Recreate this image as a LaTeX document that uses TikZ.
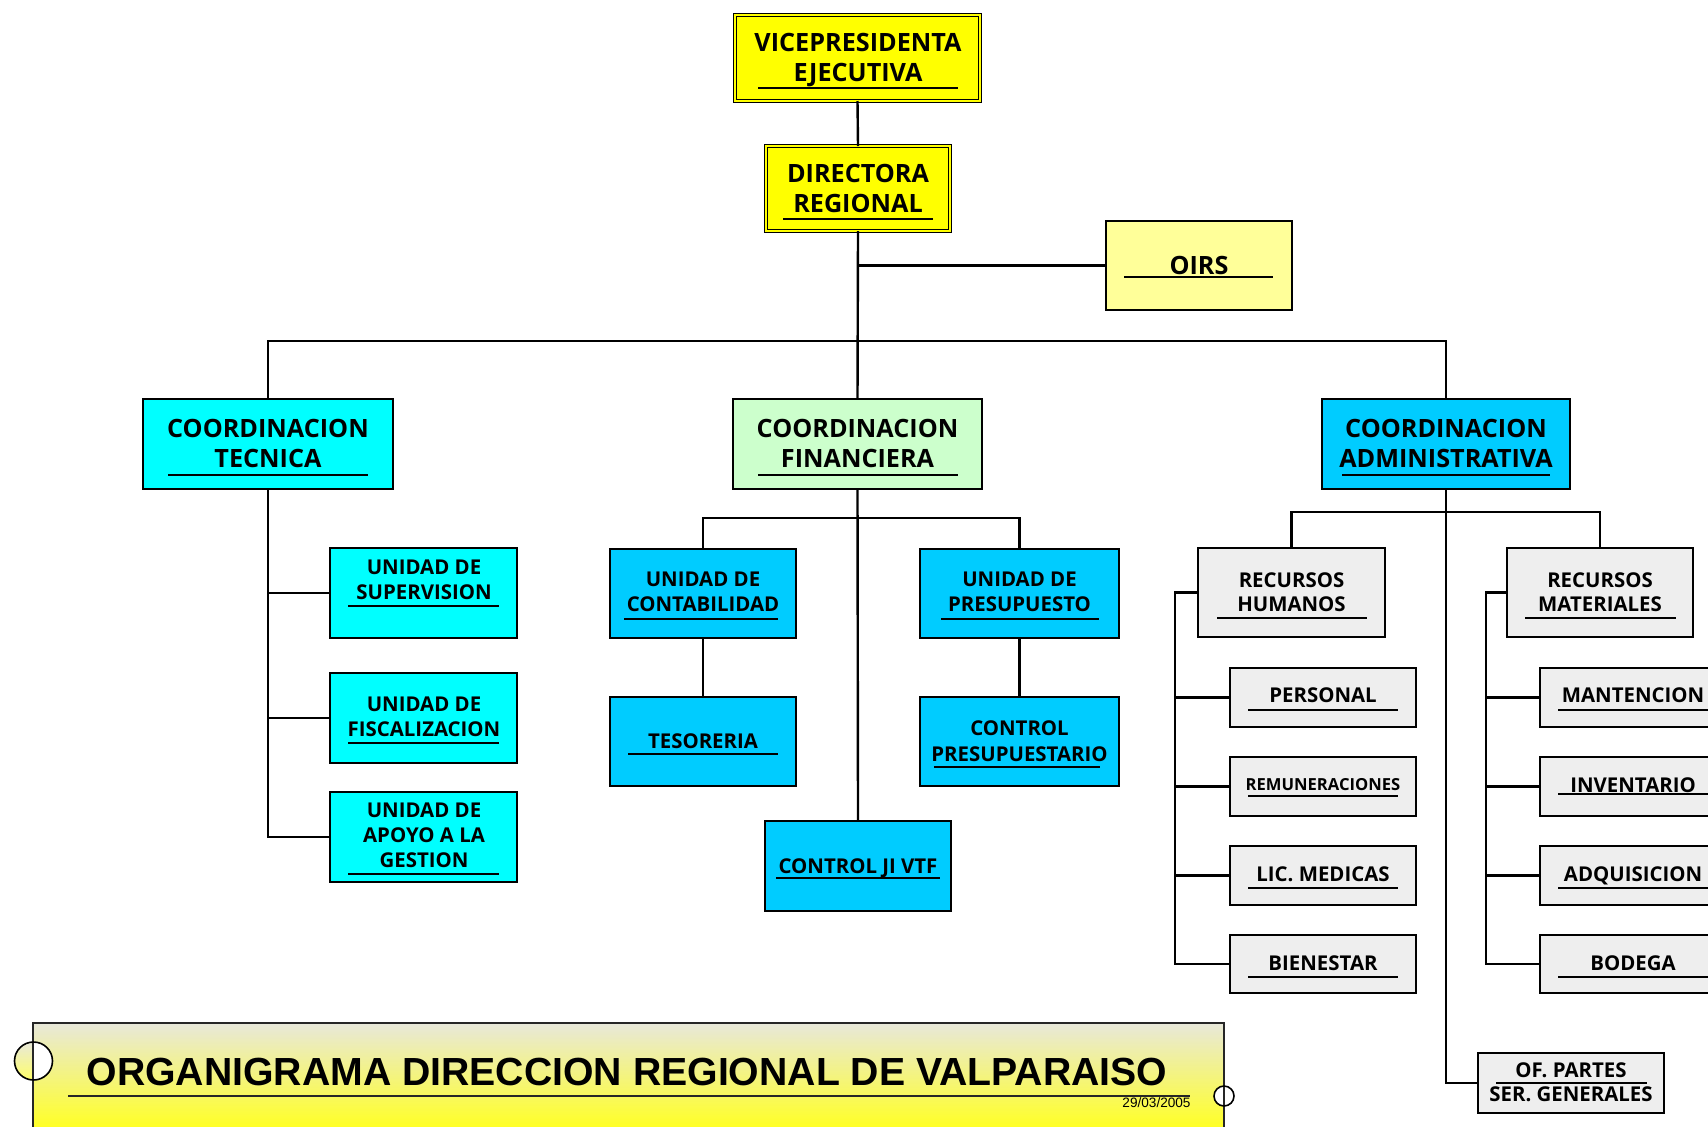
\documentclass[tikz,border=0pt]{standalone}
\usepackage{fontspec}
\setmainfont{Open Sans}
\newfontfamily\arialf{Liberation Sans}
\usetikzlibrary{fit}
\definecolor{yel}{RGB}{255,255,0}
\definecolor{oirsc}{RGB}{255,255,153}
\definecolor{cyn}{RGB}{0,255,255}
\definecolor{sky}{RGB}{0,204,255}
\definecolor{lgreen}{RGB}{204,255,204}
\definecolor{lgray}{RGB}{238,238,238}
\definecolor{bantop}{RGB}{232,232,218}
\definecolor{banbot}{RGB}{255,255,40}
\newcommand\obox[6]{\node[#6, fit={(#2,#3)(#4,#5)}] (#1) {};}
\newcommand\otxt[5]{\node[#5] (#1) at (#2,#3) {#4};}
\newcommand\oul[3]{\draw[uline] (#1,#3) -- (#2,#3);}
\begin{document}
\begin{tikzpicture}[x=0.5pt,y=-0.5pt,
 box/.style={draw=black, line width=1.4pt, inner sep=0pt, outer sep=0pt},
 dbox/.style={draw=black, double=yel, double distance=0.75pt, line width=0.85pt, fill=yel, inner sep=0pt, outer sep=0pt},
 conn/.style={line width=1.2pt, black},
 uline/.style={line width=1.1pt, black},
 tl/.style={inner sep=0pt, font=\bfseries\fontsize{12.6}{15}\selectfont, text height=9pt, text depth=0pt},
 ts/.style={inner sep=0pt, font=\bfseries\fontsize{10.2}{12}\selectfont, text height=7.3pt, text depth=0pt},
 tx/.style={inner sep=0pt, font=\bfseries\fontsize{8.3}{10}\selectfont, text height=5.9pt, text depth=0pt},
 ttl/.style={inner sep=0pt, font=\arialf\bfseries\fontsize{19.6}{23}\selectfont, text height=14pt, text depth=0pt},
 tdate/.style={inner sep=0pt, font=\arialf\fontsize{6.8}{8}\selectfont, text height=4.9pt, text depth=0pt},
]
\useasboundingbox (0,0) rectangle (1708,1126);
\fill[white] (0,0) rectangle (1708,1126);

% ---- junction coordinates ----
\coordinate (mbus) at (858,341);
\coordinate (fbus) at (857.5,518);
\coordinate (abus) at (1446,512);
\coordinate (rht) at (1175,0);
\coordinate (rmt) at (1486,0);

% ---- boxes ----
\obox{vpe}{735}{15}{980}{101}{dbox}
\obox{dir}{766}{146}{950}{231}{dbox}
\obox{oirs}{1106}{221}{1292}{310}{box, fill=oirsc}
\obox{ct}{143}{399}{393}{489}{box, fill=cyn}
\obox{cf}{733}{399}{982}{489}{box, fill=lgreen}
\obox{ca}{1322}{399}{1570}{489}{box, fill=sky}
\obox{su}{330}{548}{517}{638}{box, fill=cyn}
\obox{fi}{330}{673}{517}{763}{box, fill=cyn}
\obox{ap}{330}{792}{517}{882}{box, fill=cyn}
\obox{co}{610}{549}{796}{638}{box, fill=sky}
\obox{pr}{920}{549}{1119}{638}{box, fill=sky}
\obox{te}{610}{697}{796}{786}{box, fill=sky}
\obox{cp}{920}{697}{1119}{786}{box, fill=sky}
\obox{cj}{765}{821}{951}{911}{box, fill=sky}
\obox{rh}{1198}{548}{1385}{637}{box, fill=lgray}
\obox{rm}{1507}{548}{1693}{637}{box, fill=lgray}
\obox{per}{1230}{668}{1416}{727}{box, fill=lgray}
\obox{rem}{1230}{757}{1416}{816}{box, fill=lgray}
\obox{lic}{1230}{846}{1416}{905}{box, fill=lgray}
\obox{bie}{1230}{935}{1416}{993}{box, fill=lgray}
\obox{man}{1540}{668}{1726}{727}{box, fill=lgray}
\obox{inv}{1540}{757}{1726}{816}{box, fill=lgray}
\obox{adq}{1540}{846}{1726}{905}{box, fill=lgray}
\obox{bod}{1540}{935}{1726}{993}{box, fill=lgray}
\obox{ofp}{1478}{1053}{1664}{1113}{box, fill=lgray}

% ---- connectors ----
\draw[conn] (vpe.south) -- (dir.north);
\draw[conn] (dir.south) -- (cf.north);
\draw[conn] (dir.south |- oirs.west) -- (oirs.west);
\draw[conn] (ct.north) |- (mbus) -| (ca.north);
\draw[conn] (ct.south) -- (ct.south |- ap.west) -- (ap.west);
\draw[conn] (ct.south |- su.west) -- (su.west);
\draw[conn] (ct.south |- fi.west) -- (fi.west);
\draw[conn] (cf.south) -- (cj.north);
\draw[conn] (co.north) |- (fbus) -| (pr.north);
\draw[conn] (co.south) -- (te.north);
\draw[conn] (pr.south) -- (cp.north);
\draw[conn] (ca.south) |- (ofp.west);
\draw[conn] (rh.north) |- (abus) -| (rm.north);
\draw[conn] (rh.west) -- (rh.west -| rht) -- (bie.west -| rht) -- (bie.west);
\draw[conn] (per.west -| rht) -- (per.west);
\draw[conn] (rem.west -| rht) -- (rem.west);
\draw[conn] (lic.west -| rht) -- (lic.west);
\draw[conn] (rm.west) -- (rm.west -| rmt) -- (bod.west -| rmt) -- (bod.west);
\draw[conn] (man.west -| rmt) -- (man.west);
\draw[conn] (inv.west -| rmt) -- (inv.west);
\draw[conn] (adq.west -| rmt) -- (adq.west);

% ---- texts ----
\otxt{vpe1}{858}{42}{VICEPRESIDENTA}{tl}
\otxt{vpe2}{858}{72}{EJECUTIVA}{tl}
\oul{758}{958}{88}
\otxt{dir1}{858}{173}{DIRECTORA}{tl}
\otxt{dir2}{858}{203}{REGIONAL}{tl}
\oul{783}{933}{219}
\otxt{oirs1}{1199}{265}{OIRS}{tl}
\oul{1124}{1273}{277}
\otxt{ct1}{268}{428}{COORDINACION}{tl}
\otxt{ct2}{268}{458}{TECNICA}{tl}
\oul{168}{368}{475}
\otxt{cf1}{857.5}{428}{COORDINACION}{tl}
\otxt{cf2}{857.5}{458}{FINANCIERA}{tl}
\oul{758}{958}{475}
\otxt{ca1}{1446}{428}{COORDINACION}{tl}
\otxt{ca2}{1446}{458}{ADMINISTRATIVA}{tl}
\oul{1342}{1550}{475}
\otxt{su1}{424}{567}{UNIDAD DE}{ts}
\otxt{su2}{424}{592.5}{SUPERVISION}{ts}
\oul{348}{499}{606}
\otxt{fi1}{424}{704.5}{UNIDAD DE}{ts}
\otxt{fi2}{424}{729.5}{FISCALIZACION}{ts}
\oul{348}{499}{743}
\otxt{ap1}{424}{810.5}{UNIDAD DE}{ts}
\otxt{ap2}{424}{835.5}{APOYO A LA}{ts}
\otxt{ap3}{424}{860.5}{GESTION}{ts}
\oul{348}{499}{874}
\otxt{co1}{703}{579.5}{UNIDAD DE}{ts}
\otxt{co2}{703}{604.5}{CONTABILIDAD}{ts}
\oul{624}{778}{619}
\otxt{pr1}{1019.5}{579.5}{UNIDAD DE}{ts}
\otxt{pr2}{1019.5}{604.5}{PRESUPUESTO}{ts}
\oul{941}{1099}{619}
\otxt{te1}{703}{741}{TESORERIA}{ts}
\oul{628}{778}{754}
\otxt{cp1}{1019.5}{728}{CONTROL}{ts}
\otxt{cp2}{1019.5}{754}{PRESUPUESTARIO}{ts}
\oul{934}{1100}{767}
\otxt{cj1}{858}{866}{CONTROL JI VTF}{ts}
\oul{776}{940}{878}
\otxt{rh1}{1291.5}{580}{RECURSOS}{ts}
\otxt{rh2}{1291.5}{604.5}{HUMANOS}{ts}
\oul{1217}{1367}{618}
\otxt{rm1}{1600}{580}{RECURSOS}{ts}
\otxt{rm2}{1600}{604.5}{MATERIALES}{ts}
\oul{1525}{1676}{618}
\otxt{per1}{1323}{695.5}{PERSONAL}{ts}
\oul{1248}{1398}{710}
\otxt{rem1}{1323}{784.5}{REMUNERACIONES}{tx}
\oul{1248}{1398}{796}
\otxt{lic1}{1323}{874.5}{LIC. MEDICAS}{ts}
\oul{1248}{1398}{888}
\otxt{bie1}{1323}{963.5}{BIENESTAR}{ts}
\oul{1248}{1398}{977}
\otxt{man1}{1633}{695.5}{MANTENCION}{ts}
\oul{1558}{1708}{710}
\otxt{inv1}{1633}{785.5}{INVENTARIO}{ts}
\oul{1558}{1708}{794}
\otxt{adq1}{1633}{874.5}{ADQUISICION}{ts}
\oul{1558}{1708}{888}
\otxt{bod1}{1633}{963.5}{BODEGA}{ts}
\oul{1558}{1708}{977}
\otxt{ofp1}{1571}{1070}{OF. PARTES}{ts}
\otxt{ofp2}{1571}{1094.5}{SER. GENERALES}{ts}
\oul{1496}{1647}{1083}

% ---- title banner ----
\shade[top color=bantop, bottom color=banbot] (33,1023) rectangle (1224,1126);
\begin{scope}
  \clip (33.5,1061) circle[radius=19];
  \shade[top color=bantop, bottom color=banbot!70!white] (14,1042) rectangle (33,1080);
  \fill[white] (33,1042) rectangle (53,1080);
\end{scope}
\fill[white] (1224,1096) circle[radius=10];
\draw[line width=0.9pt, black!85] (33,1140) -- (33,1023) -- (1224,1023) -- (1224,1140);
\draw[line width=0.8pt, black] (33.5,1061) circle[radius=19];
\draw[line width=0.8pt, black] (1224,1096) circle[radius=10];
\otxt{title}{627}{1071.5}{ORGANIGRAMA DIRECCION REGIONAL DE VALPARAISO}{ttl}
\draw[line width=1pt, black!85] (68,1096) -- (1190,1096);
\otxt{date}{1156.5}{1103}{29/03/2005}{tdate}
\end{tikzpicture}
\end{document}
